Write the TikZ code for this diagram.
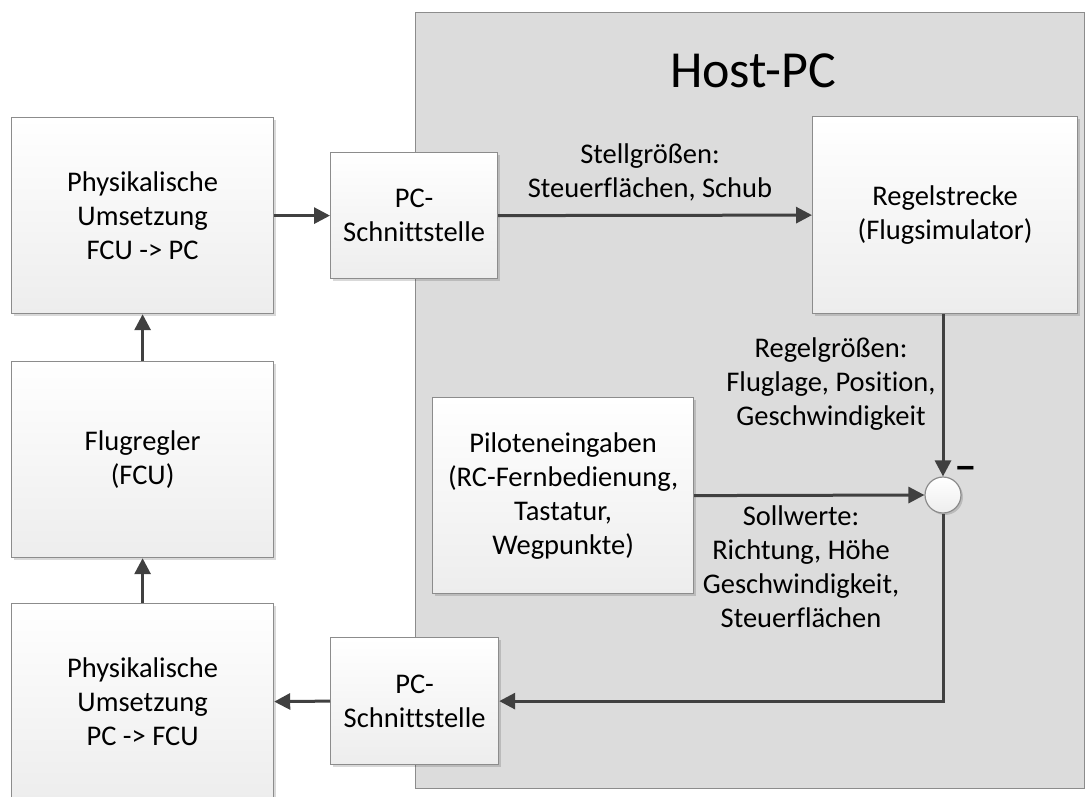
\documentclass[tikz,border=0pt]{standalone}
\usepackage{fontspec}
\usepackage{graphicx}
\setmainfont{Carlito}[Ligatures={TeX,NoCommon}]
\usetikzlibrary{arrows.meta,shadows}
\definecolor{linec}{HTML}{404040}
\definecolor{borderc}{HTML}{8C8C8C}
\definecolor{hostc}{HTML}{DCDCDC}
\definecolor{shadec}{HTML}{EDEDED}
\begin{document}
\begin{tikzpicture}[x=1pt,y=-1pt,
  txt/.style={font=\fontsize{28.5}{34}\selectfont},
  blk/.style={txt, draw=borderc, line width=1.2pt, top color=white, bottom color=shadec,
    inner sep=0pt, align=center, anchor=north west,
    drop shadow={shadow xshift=2.5pt, shadow yshift=-2.5pt, fill=black, opacity=0.15}},
  hostbox/.style={draw=borderc, line width=1.2pt, fill=hostc, inner sep=0pt, anchor=north west},
  sumnode/.style={circle, draw=borderc, line width=1.2pt, top color=white, bottom color=shadec,
    minimum size=36pt, inner sep=0pt,
    drop shadow={shadow xshift=2pt, shadow yshift=-2pt, fill=black, opacity=0.15}},
  conn/.style={draw=linec, line width=3pt, -{Triangle[length=16pt,width=16pt]}},
  lbl/.style={txt, align=center, inner sep=0pt}]
\useasboundingbox (0,0) rectangle (1086,796);
\fill[white] (0,0) rectangle (1086,796);
% Host PC area
\node[hostbox, minimum width=669pt, minimum height=776pt] (host) at (415,12) {};
\node[font=\fontsize{52}{62}\selectfont, anchor=base, inner sep=0pt] (title) at (753,87) {Host-PC};
% blocks
\node[blk, minimum width=262pt, minimum height=196pt] (b1) at (11,117) {Physikalische\\Umsetzung\\FCU -> PC};
\node[blk, minimum width=262pt, minimum height=196pt] (b2) at (11,361) {Flugregler\\(FCU)};
\node[blk, minimum width=262pt, minimum height=196pt] (b3) at (11,603) {Physikalische\\Umsetzung\\PC -> FCU};
\node[blk, minimum width=167pt, minimum height=126pt] (pcs1) at (330,152) {PC-\\Schnittstelle};
\node[blk, minimum width=168pt, minimum height=127pt] (pcs2) at (330,637) {PC-\\Schnittstelle};
\node[blk, minimum width=265pt, minimum height=197pt] (reg) at (812,116) {Regelstrecke\\(Flugsimulator)};
\node[blk, minimum width=261pt, minimum height=196pt] (pil) at (432,397) {Piloteneingaben\\(RC-Fernbedienung,\\Tastatur,\\Wegpunkte)};
\node[sumnode] (sum) at (943,495) {};
\node[font=\bfseries\fontsize{28.5}{34}\selectfont, anchor=base, inner sep=0pt, text=black] (minus) at (966,479) {\scalebox{1.6}[1.4]{–}};
% labels
\node[lbl] (l1) at (650,172) {Stellgrößen:\\Steuerflächen, Schub};
\node[lbl] (l2) at (831,384) {Regelgrößen:\\Fluglage, Position,\\Geschwindigkeit};
\node[lbl] (l3) at (801,567) {Sollwerte:\\Richtung, Höhe\\Geschwindigkeit,\\Steuerflächen};
% connectors
\draw[conn] (b1.east) -- (pcs1.west);
\draw[conn] (pcs1.east) -- (reg.west);
\draw[conn] (b2.north) -- (b1.south);
\draw[conn] (b3.north) -- (b2.south);
\draw[conn] (sum.north |- reg.south) -- (sum.north);
\draw[conn] (pil.east) -- (sum.west);
\draw[conn] (sum.south) |- (pcs2.east);
\draw[conn] (pcs2.west) -- (b3.east);
\end{tikzpicture}
\end{document}
